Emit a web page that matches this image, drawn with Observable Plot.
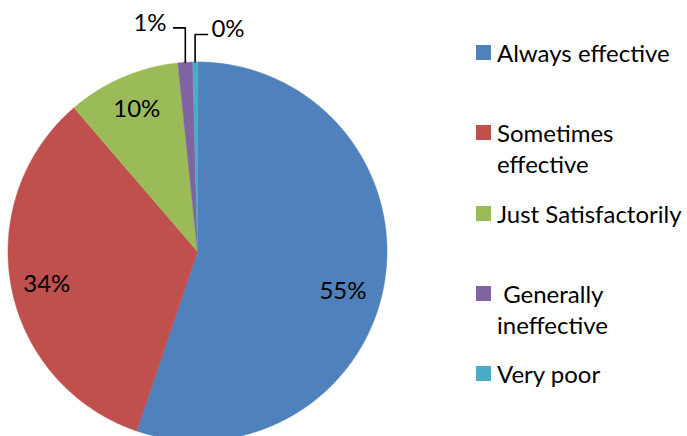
<!DOCTYPE html>
<html><head><meta charset="utf-8">
<script src="https://cdn.jsdelivr.net/npm/d3@7"></script>
<script src="https://cdn.jsdelivr.net/npm/@observablehq/plot@0.6"></script>
<style>
html,body{margin:0;padding:0;background:#fff;}
#wrap{position:relative;width:687px;height:436px;overflow:hidden;font-family:Lato,"Open Sans",sans-serif;}
.item{position:absolute;left:476px;}
.sw{position:absolute;left:0;width:15px;height:15px;}
.txt{position:absolute;left:21px;font-size:24px;line-height:31px;color:#000;white-space:pre;}
</style></head><body><div id="wrap"></div>
<script>
// ---- data ----
const categories = ["Always effective", "Sometimes effective", "Just Satisfactorily", "Generally ineffective", "Very poor"];
const values = [55.2, 33.5, 9.65, 1.25, 0.4];
const labels = ["55%", "34%", "10%", "1%", "0%"];
const colors = ["#4F81BD", "#C0504D", "#9BBB59", "#8064A2", "#4BACC6"];
const legendLines = [["Always effective"], ["Sometimes", "effective"], ["Just Satisfactorily"], [" Generally", "ineffective"], ["Very poor"]];

// ---- layout ----
const W = 687, H = 436, CX = 197, CY = 251, R = 189.5;
const labelR = 0.81;
const nudges = [[-6, 15], [0, 4], [0, -1]];
const outside = {3: {elbow: 1.18, dir: -1, len: 0.062}, 4: {elbow: 1.145, dir: 1, len: 0.065}};
const legendTops = [45, 125, 206, 286, 366];

const arcs = d3.pie().sort(null).value(d => d)(values);
const polar = (a, r) => [r * Math.sin(a), r * Math.cos(a)];

const slices = arcs.map((a, i) => {
  const ring = [[0, 0]];
  const n = Math.max(2, Math.ceil((a.endAngle - a.startAngle) / (Math.PI / 360)));
  for (let k = 0; k <= n; k++) ring.push(polar(a.startAngle + (a.endAngle - a.startAngle) * k / n, 1));
  ring.push([0, 0]);
  return {type: "Feature", properties: {category: categories[i]}, geometry: {type: "Polygon", coordinates: [ring]}};
});

const inside = [], leaders = [], outLabels = [];
arcs.forEach((a, i) => {
  const mid = (a.startAngle + a.endAngle) / 2;
  if (outside[i]) {
    const o = outside[i];
    const s = polar(mid, 1);
    const end = [s[0] + o.dir * o.len, o.elbow];
    leaders.push({type: "Feature", geometry: {type: "LineString", coordinates: [s, [s[0], o.elbow], end]}});
    outLabels.push({x: end[0], y: end[1], text: labels[i], dir: o.dir});
  } else {
    const p = polar(mid, labelR);
    inside.push({x: p[0], y: p[1], text: labels[i], i});
  }
});

const projection = d3.geoIdentity().reflectY(true).scale(R).translate([CX, CY]);

const plot = Plot.plot({
  width: W, height: H,
  margin: 0,
  projection,
  style: {fontFamily: "Lato, 'Open Sans', sans-serif", fontSize: "24px", background: "white", overflow: "hidden"},
  color: {type: "ordinal", domain: categories, range: colors},
  marks: [
    Plot.geo(slices, {fill: d => d.properties.category, stroke: d => d.properties.category, strokeWidth: 0.5}),
    ...inside.map(d => Plot.text([d], {x: "x", y: "y", text: "text", dx: (nudges[d.i] || [0, 0])[0], dy: (nudges[d.i] || [0, 0])[1], fill: "black", fontSize: 24})),
    Plot.geo(leaders, {stroke: "black", strokeWidth: 1.6, fill: "none"}),
    Plot.text(outLabels.filter(d => d.dir < 0), {x: "x", y: "y", text: "text", textAnchor: "end", dx: -7, dy: -5, fill: "black", fontSize: 24}),
    Plot.text(outLabels.filter(d => d.dir > 0), {x: "x", y: "y", text: "text", textAnchor: "start", dx: 4, dy: -5, fill: "black", fontSize: 24})
  ]
});

const wrap = document.getElementById("wrap");
wrap.appendChild(plot);
const color = plot.scale("color");
categories.forEach((c, i) => {
  const item = document.createElement("div");
  item.className = "item";
  item.style.top = legendTops[i] + "px";
  const sw = document.createElement("div");
  sw.className = "sw";
  sw.style.background = color.apply(c);
  const txt = document.createElement("div");
  txt.className = "txt";
  txt.style.top = (7.5 - 15.5) + "px";
  txt.textContent = legendLines[i].join("\n");
  item.appendChild(sw);
  item.appendChild(txt);
  wrap.appendChild(item);
});
</script></body></html>
